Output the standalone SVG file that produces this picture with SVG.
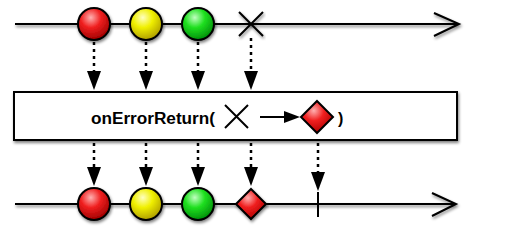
<svg xmlns="http://www.w3.org/2000/svg" width="512" height="230" viewBox="0 0 512 230">
<style>
.line{stroke:#000;stroke-width:2;fill:none}
.dash{stroke:#000;stroke-width:2.5;stroke-dasharray:3 4;fill:none}
.head{fill:#000}
.ball{stroke:#000;stroke-width:2}
.txt{font-family:"Liberation Sans",Arial,sans-serif;font-weight:bold;font-size:16px;fill:#000}
</style>
<defs>
<filter id="sh" x="-10%" y="-50%" width="120%" height="200%">
<feGaussianBlur in="SourceAlpha" stdDeviation="1.5"/>
<feOffset dx="1" dy="2" result="b"/>
<feComponentTransfer><feFuncA type="linear" slope="0.5"/></feComponentTransfer>
<feMerge><feMergeNode/><feMergeNode in="SourceGraphic"/></feMerge>
</filter>
<radialGradient id="gr" cx="0.4" cy="0.3" r="0.7"><stop offset="0" stop-color="#ffb0b0"/><stop offset="0.45" stop-color="#f02020"/><stop offset="1" stop-color="#a00000"/></radialGradient>
<radialGradient id="gy" cx="0.4" cy="0.3" r="0.7"><stop offset="0" stop-color="#ffffc0"/><stop offset="0.45" stop-color="#f0f000"/><stop offset="1" stop-color="#b0a000"/></radialGradient>
<radialGradient id="gg" cx="0.4" cy="0.3" r="0.7"><stop offset="0" stop-color="#c0ffc0"/><stop offset="0.45" stop-color="#20e020"/><stop offset="1" stop-color="#00900a"/></radialGradient>
<radialGradient id="gd" cx="0.4" cy="0.3" r="0.7"><stop offset="0" stop-color="#ffb0b0"/><stop offset="0.45" stop-color="#f02020"/><stop offset="1" stop-color="#b00000"/></radialGradient>
</defs>

<g id="connectors">
<g filter="url(#sh)">
<line class="line" x1="15" y1="24" x2="459" y2="24"/>
<polyline class="line" points="434,13 459,24 434,36"/>
<line class="line" x1="15" y1="204" x2="456" y2="204"/>
<polyline class="line" points="432,193 456,204 432,216"/>
</g>
<g>
<line class="dash" x1="94" y1="42" x2="94" y2="72"/><polygon class="head" points="87,71 101,71 94,90"/>
<line class="dash" x1="146" y1="42" x2="146" y2="72"/><polygon class="head" points="139,71 153,71 146,90"/>
<line class="dash" x1="198" y1="42" x2="198" y2="72"/><polygon class="head" points="191,71 205,71 198,90"/>
<line class="dash" x1="251" y1="38" x2="251" y2="72"/><polygon class="head" points="244,71 258,71 251,90"/>
<line class="dash" x1="94" y1="143" x2="94" y2="168"/><polygon class="head" points="87,167 101,167 94,186"/>
<line class="dash" x1="146" y1="143" x2="146" y2="168"/><polygon class="head" points="139,167 153,167 146,186"/>
<line class="dash" x1="198" y1="143" x2="198" y2="168"/><polygon class="head" points="191,167 205,167 198,186"/>
<line class="dash" x1="251" y1="143" x2="251" y2="168"/><polygon class="head" points="244,167 258,167 251,186"/>
<line class="dash" x1="318" y1="143" x2="318" y2="173"/><polygon class="head" points="311,172 325,172 318,191"/>
</g>
</g>

<g id="top-red"><circle class="ball" cx="94" cy="24" r="16" fill="url(#gr)" filter="url(#sh)"/></g>
<g id="top-yellow"><circle class="ball" cx="146" cy="24" r="16" fill="url(#gy)" filter="url(#sh)"/></g>
<g id="top-green"><circle class="ball" cx="198" cy="24" r="16" fill="url(#gg)" filter="url(#sh)"/></g>
<g id="top-error" filter="url(#sh)"><path class="line" d="M239,12 L263,36 M263,12 L239,36"/></g>

<g id="operator">
<rect x="14" y="92" width="443" height="48" fill="#fff" stroke="#000" stroke-width="2" filter="url(#sh)"/>
<text class="txt" x="91" y="124" textLength="124" lengthAdjust="spacingAndGlyphs">onErrorReturn(</text>
<path class="line" d="M225,105 L248,128 M248,105 L225,128"/>
<line class="line" x1="260" y1="117" x2="286" y2="117"/>
<polygon class="head" points="284,111 300,117 284,123"/>
<polygon class="ball" points="317,101 333,117 317,133 301,117" fill="url(#gd)"/>
<text class="txt" x="338" y="124">)</text>
</g>

<g id="bottom-red"><circle class="ball" cx="94" cy="204" r="16" fill="url(#gr)" filter="url(#sh)"/></g>
<g id="bottom-yellow"><circle class="ball" cx="146" cy="204" r="16" fill="url(#gy)" filter="url(#sh)"/></g>
<g id="bottom-green"><circle class="ball" cx="198" cy="204" r="16" fill="url(#gg)" filter="url(#sh)"/></g>
<g id="bottom-diamond"><polygon class="ball" points="251,189 266,204 251,219 236,204" fill="url(#gd)" filter="url(#sh)"/></g>
<g id="bottom-complete"><line class="line" x1="318" y1="192" x2="318" y2="217" stroke-width="2.5"/></g>
</svg>
